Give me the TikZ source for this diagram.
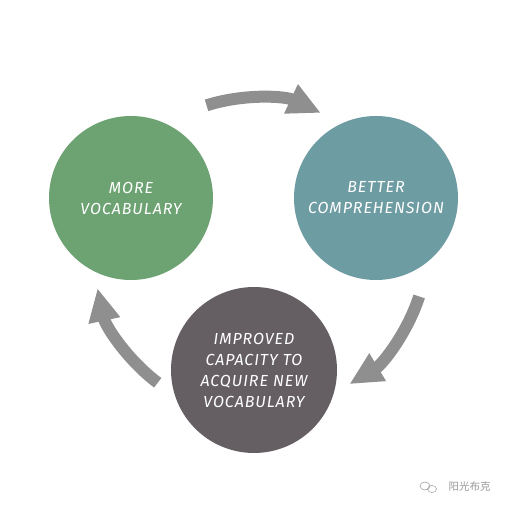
\documentclass[tikz,border=0pt]{standalone}
\usepackage{fontspec}
\setmainfont{Fira Sans}
\newfontfamily\cjk{Noto Sans CJK SC}
\usetikzlibrary{arrows.meta,calc}
\definecolor{vocabgreen}{HTML}{6DA272}
\definecolor{comprteal}{HTML}{6E9CA3}
\definecolor{capgray}{HTML}{655F64}
\definecolor{arrowgray}{HTML}{8F8F8F}
\definecolor{markgray}{HTML}{9A9A9A}
\tikzset{
  bubble/.style={circle, minimum size=164pt, inner sep=0pt, text=white,
    font=\fontsize{16}{21}\selectfont\itshape\addfontfeature{LetterSpace=6},
    align=center},
  cyclearrow/.style={arrowgray, line width=12pt, line cap=butt,
    -{Triangle[length=33pt, width=30pt]}}
}
\begin{document}
\begin{tikzpicture}[x=1pt, y=1pt]
        \useasboundingbox (0,0) rectangle (510,510);
        
        % Circles
        \node[bubble, fill=vocabgreen] (more) at (131,312) {MORE\\VOCABULARY};
        \node[bubble, fill=comprteal] (better) at (376,312) {BETTER\\COMPREHENSION};
        \node[bubble, fill=capgray, minimum size=166pt] (improved) at (254,140)
          {IMPROVED\\CAPACITY TO\\ACQUIRE NEW\\VOCABULARY};
        
        % Arrows round the middle
        \coordinate (mid) at (254,255);
        \coordinate (mid2) at (267,263);
        \coordinate (a1) at ($(mid)+(107.6:157)$);
        \coordinate (a2) at ($(mid2)+(-18:160)$);
        \coordinate (a3) at ($(mid)+(233:160)$);
        \draw[cyclearrow] (a1) arc[start angle=107.6, end angle=64.8, radius=157];
        \draw[cyclearrow] (a2) arc[start angle=-18, end angle=-59, radius=160];
        \draw[cyclearrow] (a3) arc[start angle=233, end angle=192, radius=160];
        
        % Watermark
        \draw[markgray, line width=0.5pt] (425,24) ellipse (5pt and 4pt);
        \draw[markgray, line width=0.5pt] (432,21) ellipse (4.5pt and 3.5pt);
        \node[markgray, font=\cjk\fontsize{10.5}{12}\selectfont, anchor=west] (mark) at (445,23) {阳光布克};
    \end{tikzpicture}
\end{document}
